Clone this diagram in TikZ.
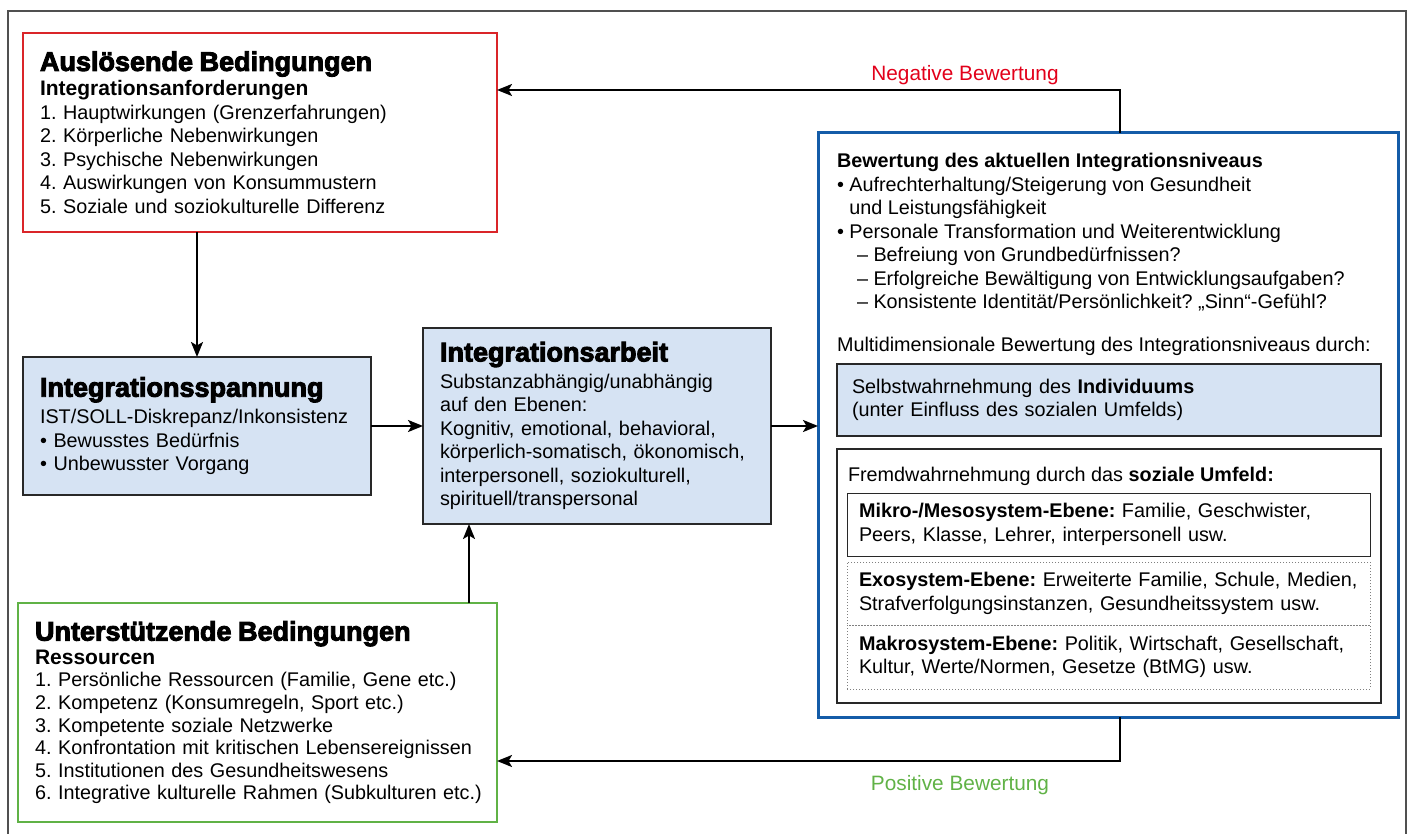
\documentclass[tikz,border=0pt]{standalone}
\usepackage{fontspec}
\setmainfont{Liberation Sans}
\newfontfamily\heavyfont{Liberation Sans}[BoldFeatures={FakeBold=3.5}]
\usetikzlibrary{arrows.meta}
\frenchspacing

\definecolor{boxred}{RGB}{218,37,41}
\definecolor{negred}{RGB}{226,0,26}
\definecolor{boxgreen}{RGB}{96,178,70}
\definecolor{boxblue}{RGB}{20,92,168}
\definecolor{lightblue}{RGB}{214,227,243}
\definecolor{framegray}{RGB}{80,80,80}
\definecolor{edgegray}{RGB}{40,40,40}

\newcommand\boxtitle{\heavyfont\bfseries\fontsize{27}{30}\selectfont}
\newcommand\boxsub{\bfseries\fontsize{21}{23.5}\selectfont}
\newcommand\boxtext{\fontsize{19.8}{23.5}\selectfont}

\begin{document}
\begin{tikzpicture}[x=1pt, y=-1pt,
  every node/.style={inner sep=0pt, outer sep=0pt},
  arr/.style={line width=2pt, -{Stealth[length=15pt, width=12pt, inset=3.5pt]}},
  condbox/.style={draw, line width=2.2pt, anchor=north west, align=left, font=\boxtext, inner xsep=17pt},
  workbox/.style={draw=edgegray, fill=lightblue, line width=2.5pt, anchor=north west, align=left, font=\boxtext, inner xsep=17pt},
  levelbox/.style={anchor=north west, minimum width=523pt, text width=499pt, inner xsep=12pt, align=left, font=\boxtext, line width=1pt},
  judgelabel/.style={anchor=base, font=\fontsize{20.8}{24}\selectfont}]

\useasboundingbox (0,0) rectangle (1408,834);

% outer frame
\draw[framegray, line width=2pt] (8,835) -- (8,11) -- (1406,11) -- (1406,835);

% left column
\node[condbox, draw=boxred, minimum width=474pt, minimum height=199pt, text width=440pt] (ausl) at (23,33) {%
{\boxtitle Auslösende Bedingungen}\\[1.5pt]
{\boxsub Integrationsanforderungen}\\
1. Hauptwirkungen (Grenzerfahrungen)\\
2. Körperliche Nebenwirkungen\\
3. Psychische Nebenwirkungen\\
4. Auswirkungen von Konsummustern\\
5. Soziale und soziokulturelle Differenz};

\node[workbox, minimum width=348pt, minimum height=138pt, text width=314pt] (span) at (23,357) {%
{\boxtitle Integrationsspannung}\\[3.5pt]
IST/SOLL-Diskrepanz/Inkonsistenz\\
• Bewusstes Bedürfnis\\
• Unbewusster Vorgang};

\node[workbox, minimum width=348pt, minimum height=196pt, text width=314pt] (arb) at (423,328) {%
{\boxtitle Integrationsarbeit}\\[3.5pt]
Substanzabhängig/unabhängig\\
auf den Ebenen:\\
Kognitiv, emotional, behavioral,\\
körperlich-somatisch, ökonomisch,\\
interpersonell, soziokulturell,\\
spirituell/transpersonal};

\node[condbox, draw=boxgreen, minimum width=479pt, minimum height=219pt, text width=445pt, font=\fontsize{19.8}{22.6}\selectfont] (unter) at (18,603) {%
{\boxtitle Unterstützende Bedingungen}\\[1pt]
{\boxsub Ressourcen}\\
1. Persönliche Ressourcen (Familie, Gene etc.)\\
2. Kompetenz (Konsumregeln, Sport etc.)\\
3. Kompetente soziale Netzwerke\\
4. Konfrontation mit kritischen Lebensereignissen\\
5. Institutionen des Gesundheitswesens\\
\mbox{6. Integrative kulturelle Rahmen (Subkulturen etc.)}};

% right column
\node[draw=boxblue, line width=3pt, anchor=north west, minimum width=580pt, minimum height=584pt] (bew) at (818,133) {};
\node[anchor=north west, align=left, font=\boxtext] (bewtext) at (837,153.5) {%
\textbf{Bewertung des aktuellen Integrationsniveaus}\\
• Aufrechterhaltung/Steigerung von Gesundheit\\
\phantom{• }und Leistungsfähigkeit\\
• Personale Transformation und Weiterentwicklung\\
\hspace*{20pt}– Befreiung von Grundbedürfnissen?\\
\hspace*{20pt}– Erfolgreiche Bewältigung von Entwicklungsaufgaben?\\
\hspace*{20pt}– Konsistente Identität/Persönlichkeit? „Sinn“-Gefühl?};
\node[anchor=north west, font=\boxtext] (multi) at (837,337.5) {Multidimensionale Bewertung des Integrationsniveaus durch:};

\node[draw=edgegray, fill=lightblue, line width=1.5pt, anchor=north west, minimum width=544pt, minimum height=72pt, text width=514pt, inner xsep=15pt, align=left, font=\boxtext] (selbst) at (837,364) {%
Selbstwahrnehmung des \textbf{Individuums}\\
(unter Einfluss des sozialen Umfelds)};

\node[draw=edgegray, line width=1.5pt, anchor=north west, minimum width=544pt, minimum height=254pt] (fremd) at (837,449) {};
\node[anchor=north west, font=\boxtext] (fremdtitle) at (848,467.5) {Fremdwahrnehmung durch das \textbf{soziale Umfeld:}};
\node[levelbox, draw=edgegray, minimum height=63pt] (mikro) at (847,493) {%
\textbf{Mikro-/Mesosystem-Ebene:} Familie, Geschwister,\\
Peers, Klasse, Lehrer, interpersonell usw.};
\node[levelbox, draw=gray, dotted, minimum height=63pt] (exo) at (847,562) {%
\textbf{Exosystem-Ebene:} Erweiterte Familie, Schule, Medien,\\
Strafverfolgungsinstanzen, Gesundheitssystem usw.};
\node[levelbox, draw=gray, dotted, minimum height=64pt] (makro) at (847,625) {%
\textbf{Makrosystem-Ebene:} Politik, Wirtschaft, Gesellschaft,\\
Kultur, Werte/Normen, Gesetze (BtMG) usw.};

% connectors
\coordinate (upx) at (469,560);
\coordinate (negknee) at (1120,90);
\coordinate (posknee) at (1120,761);
\draw[arr] (span.north |- ausl.south) -- (span.north);
\draw[arr] (span.east) -- (arb.west);
\draw[arr] (arb.east) -- (arb.east -| bew.west);
\draw[arr] (upx |- unter.north) -- (upx |- arb.south);
\draw[arr] (negknee |- bew.north) -- (negknee) -- (negknee -| ausl.east);
\draw[arr] (posknee |- bew.south) -- (posknee) -- (posknee -| unter.east);
\node[judgelabel, text=negred] (neglabel) at (965,81) {Negative Bewertung};
\node[judgelabel, text=boxgreen] (poslabel) at (960,790) {Positive Bewertung};
\end{tikzpicture}
\end{document}
